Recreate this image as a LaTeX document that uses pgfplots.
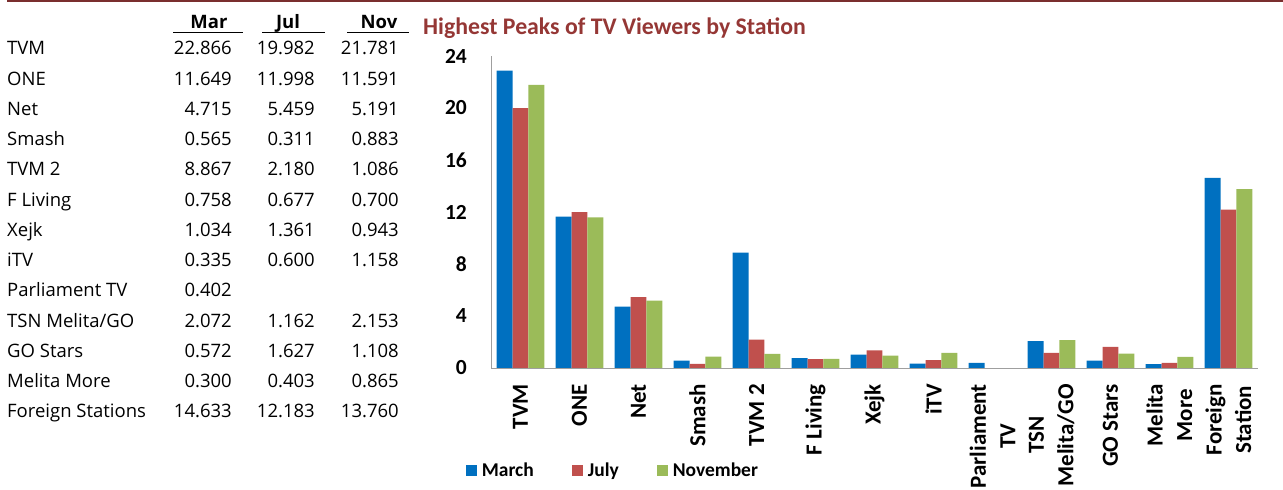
\documentclass[border=0pt]{standalone}
\usepackage{fontspec}
\setmainfont{Carlito}
\newfontfamily\tablefont{Open Sans}
\usepackage{pgfplots}
\pgfplotsset{compat=1.18}
\definecolor{cMar}{HTML}{0070C0}
\definecolor{cJul}{HTML}{C0504D}
\definecolor{cNov}{HTML}{9BBB59}
\definecolor{ctitle}{HTML}{953735}
\definecolor{cline}{HTML}{7A2E2E}

\begin{document}
\begin{tikzpicture}[x=1pt,y=1pt]
\useasboundingbox (0,0) rectangle (1283,490);
\fill[cline] (7,487.5) rectangle (1283,490);

% data table on the left
\begin{scope}[every node/.style={inner sep=0pt}, font=\tablefont\fontsize{18.5}{22}\selectfont]
  \node[anchor=base, font=\tablefont\bfseries\fontsize{18.5}{22}\selectfont] at (209,461) {Mar};
  \node[anchor=base, font=\tablefont\bfseries\fontsize{18.5}{22}\selectfont] at (288,461) {Jul};
  \node[anchor=base, font=\tablefont\bfseries\fontsize{18.5}{22}\selectfont] at (379,461) {Nov};
  \draw[line width=1.6pt] (173,457.5) -- (243,457.5);
  \draw[line width=1.6pt] (262,457.5) -- (325,457.5);
  \draw[line width=1.6pt] (347,457.5) -- (409,457.5);
  \foreach \nm/\a/\b/\c [count=\i from 0] in {
      TVM/22.866/19.982/21.781,
      ONE/11.649/11.998/11.591,
      Net/4.715/5.459/5.191,
      Smash/0.565/0.311/0.883,
      TVM 2/8.867/2.180/1.086,
      F Living/0.758/0.677/0.700,
      Xejk/1.034/1.361/0.943,
      iTV/0.335/0.600/1.158,
      Parliament TV/0.402/{}/{},
      {TSN Melita/GO}/2.072/1.162/2.153,
      GO Stars/0.572/1.627/1.108,
      Melita More/0.300/0.403/0.865,
      Foreign Stations/14.633/12.183/13.760} {
    \node[anchor=base west] at (7,435-30.25*\i) {\nm};
    \node[anchor=base east] at (232,435-30.25*\i) {\a};
    \node[anchor=base east] at (315,435-30.25*\i) {\b};
    \node[anchor=base east] at (399,435-30.25*\i) {\c};
  }
\end{scope}

\node[anchor=base west, inner sep=0pt, text=ctitle, font=\bfseries\fontsize{23.8}{24}\selectfont] at (423,455.5) {Highest Peaks of TV Viewers by Station};

\begin{axis}[
    at={(491pt,122pt)}, anchor=south west,
    width=767pt, height=312pt, scale only axis,
    ybar=0pt, bar width=0.27,
    xmin=-0.5, xmax=12.5, ymin=0, ymax=24,
    axis lines=left,
    axis line style={-, draw=gray!75, line width=0.8pt},
    major tick length=0pt,
    /pgf/number format/assume math mode=true,
    ytick={0,4,...,24},
    xtick={0,...,12},
    xticklabels={TVM, ONE, Net, Smash, TVM 2, F Living, Xejk, iTV, {Parliament\\TV}, {TSN\\Melita/GO}, GO Stars, {Melita\\More}, {Foreign\\Station}},
    yticklabel style={inner sep=0pt, font=\bfseries\fontsize{21.5}{22}\selectfont, xshift=-24pt},
    xticklabel style={inner sep=0pt, rotate=90, anchor=east, align=center, font=\bfseries\fontsize{23}{29.5}\selectfont},
    xticklabel shift=16pt,
    legend style={at={(-0.033,-0.327)}, anchor=west, draw=none, fill=none, inner sep=0pt,
        legend columns=3, font=\bfseries\fontsize{19.5}{20}\selectfont,
        /tikz/every odd column/.append style={column sep=3pt},
        /tikz/every even column/.append style={column sep=36pt}},
    legend image code/.code={\fill[#1] (0pt,-5.5pt) rectangle (11pt,5.5pt);},
]
\addplot[fill=cMar, draw=none] coordinates {(0,22.866) (1,11.649) (2,4.715) (3,0.565) (4,8.867) (5,0.758) (6,1.034) (7,0.335) (8,0.402) (9,2.072) (10,0.572) (11,0.300) (12,14.633)};
\addplot[fill=cJul, draw=none] coordinates {(0,19.982) (1,11.998) (2,5.459) (3,0.311) (4,2.180) (5,0.677) (6,1.361) (7,0.600) (9,1.162) (10,1.627) (11,0.403) (12,12.183)};
\addplot[fill=cNov, draw=none] coordinates {(0,21.781) (1,11.591) (2,5.191) (3,0.883) (4,1.086) (5,0.700) (6,0.943) (7,1.158) (9,2.153) (10,1.108) (11,0.865) (12,13.760)};
\legend{March, July, November}
\end{axis}
\end{tikzpicture}
\end{document}
